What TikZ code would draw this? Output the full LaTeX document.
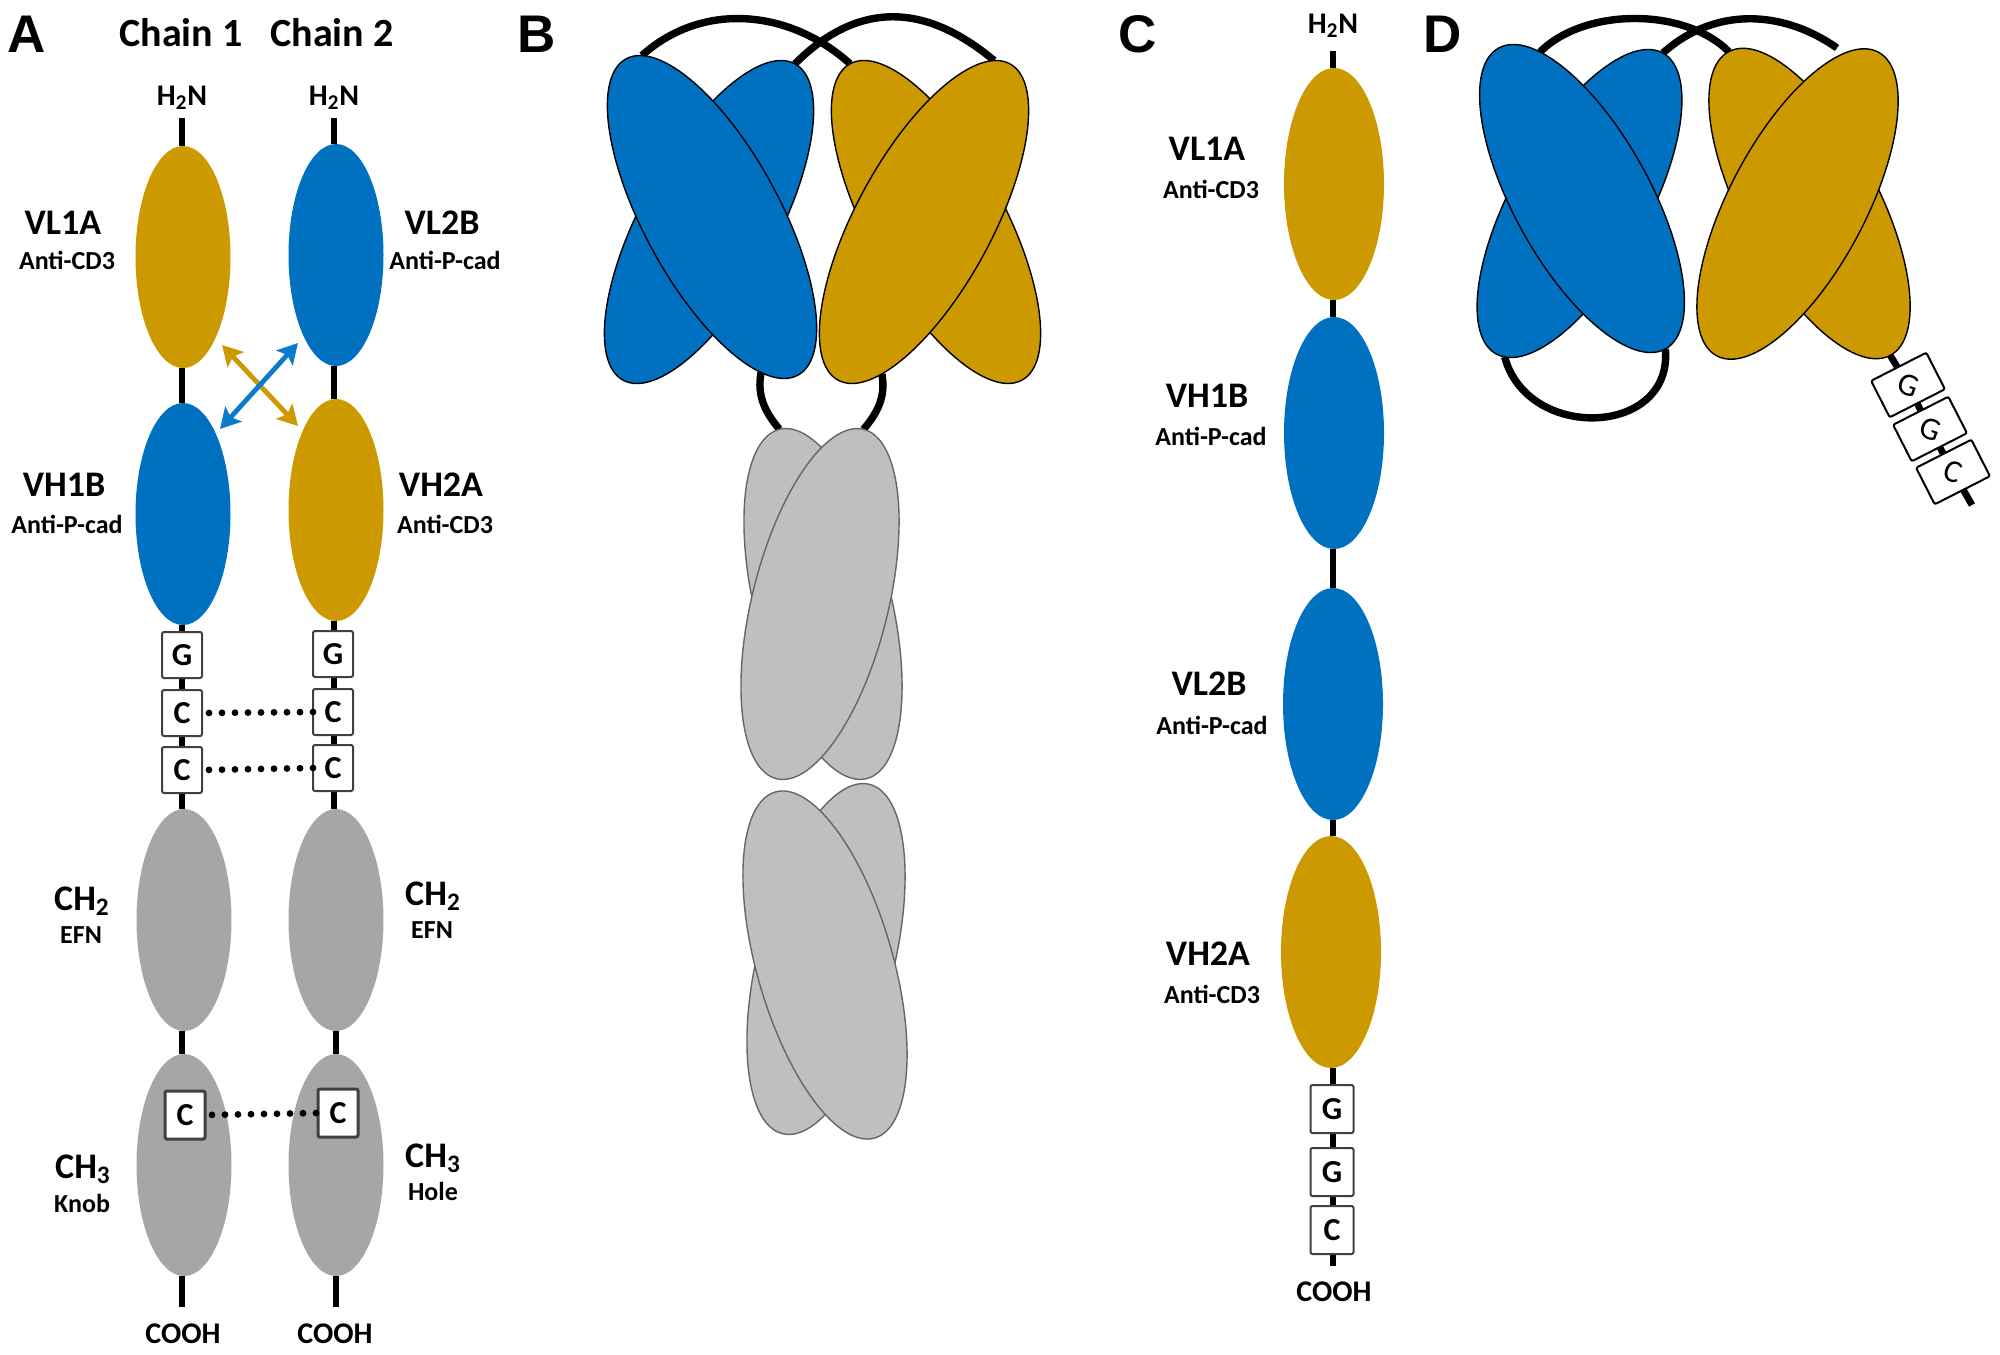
\documentclass[tikz,border=0pt]{standalone}
\usepackage{graphicx}
\usepackage{fontspec}
\setmainfont{Carlito}
\newfontfamily\panelfont{Liberation Sans}
\usetikzlibrary{arrows.meta,shapes.geometric,backgrounds}
\definecolor{goldish}{HTML}{CC9900}
\definecolor{blueish}{HTML}{0070C0}
\definecolor{arrowblue}{HTML}{0A7CCB}
\definecolor{greyA}{HTML}{A6A6A6}
\definecolor{greyB}{HTML}{BFBFBF}

\begin{document}
\begin{tikzpicture}[
        x=0.5pt, y=0.5pt,
        dom/.style      = {ellipse, inner sep=0pt, outer sep=0pt, minimum width=47.5pt, minimum height=111pt},
        domlong/.style  = {dom, minimum width=50pt, minimum height=116pt},
        fab/.style      = {ellipse, draw=black, line width=0.7pt, inner sep=0pt, outer sep=0pt, minimum width=68pt, minimum height=180pt},
        fabsmall/.style = {fab, minimum height=172pt},
        fc/.style       = {fab, draw=black!60, fill=greyB},
        hinge/.style    = {rectangle, draw=black!75, line width=1pt, rounded corners=1pt, fill=white, inner sep=0pt, outer sep=0pt,
                           minimum width=20pt, minimum height=23pt, font=\fontsize{16}{16}\selectfont\bfseries},
        hingelong/.style= {hinge, minimum width=21.5pt, minimum height=24pt},
        hingein/.style  = {hinge, line width=1.5pt, minimum width=20pt, minimum height=24pt},
        tilted/.style   = {hinge, draw=black, line width=1pt, rotate=27, minimum width=31pt, minimum height=20.5pt,
                           font=\fontsize{16}{16}\selectfont},
        tag/.style      = {inner sep=0pt, text height=10pt, text depth=3pt, font=\fontsize{15}{15}\selectfont\bfseries},
        domname/.style  = {inner sep=0pt, font=\fontsize{18}{18}\selectfont\bfseries},
        domspec/.style  = {inner sep=0pt, font=\fontsize{13}{13}\selectfont\bfseries},
        chaintitle/.style = {inner sep=0pt, font=\fontsize{20}{20}\selectfont\bfseries},
        panel/.style    = {inner sep=0pt, font=\panelfont\fontsize{26.5}{26.5}\selectfont\bfseries},
        linker/.style   = {line width=3.4pt, black},
        hoop/.style     = {line width=3.7pt, black},
        bond/.style     = {line width=3.4pt, line cap=round, dash pattern=on 0pt off 6.5pt},
        swaparrow/.style= {line width=2.4pt, {Stealth[length=10pt,width=11pt,inset=2pt]}-{Stealth[length=10pt,width=11pt,inset=2pt]}}]

        \useasboundingbox (0,0) rectangle (2000,-1354);

        % panel letters and chain titles
        \foreach \t/\x in {A/27,B/537,C/1138,D/1443}
        \node[panel] (panel\t) at (\x,-34) {\t};
        \node[chaintitle] (chain1) at (181,-33) {Chain 1};
        \node[chaintitle] (chain2) at (332,-33) {Chain 2};

        % panel A, chain 1
        \node[tag, outer sep=3.25pt] (ha1) at (182,-98.5) {H\textsubscript{2}N};
        \node[dom, fill=goldish] (vl1a) at (183,-257) {};
        \node[dom, fill=blueish] (vh1b) at (183,-514) {};
        \node[hinge] (ga1) at (182,-655) {G};
        \node[hinge] (ca1) at (182,-713) {C};
        \node[hinge] (ca2) at (182,-770) {C};
        \node[dom, fill=greyA] (ch2a) at (184,-920) {};
        \node[dom, fill=greyA] (ch3a) at (184,-1165) {};
        \node[hingein] (ca3) at (185,-1115) {C};
        \node[tag, outer sep=8pt] (oa1) at (183,-1336) {COOH};

        % panel A, chain 2
        \node[tag, outer sep=3.25pt] (ha2) at (334,-98.5) {H\textsubscript{2}N};
        \node[dom, fill=blueish] (vl2b) at (336,-255) {};
        \node[dom, fill=goldish] (vh2a) at (336,-510) {};
        \node[hinge] (gb1) at (333,-654) {G};
        \node[hinge] (cb1) at (333,-712) {C};
        \node[hinge] (cb2) at (333,-768) {C};
        \node[dom, fill=greyA] (ch2b) at (336,-920) {};
        \node[dom, fill=greyA] (ch3b) at (336,-1165) {};
        \node[hingein] (cb3) at (338,-1113) {C};
        \node[tag, outer sep=8pt] (ob1) at (335,-1336) {COOH};

        % panel A, labels
        \foreach \t/\x/\y [count=\i] in {VL1A/63/-223,VL2B/442/-223,VH1B/64/-485,VH2A/441/-485}
        \node[domname] (na\i) at (\x,\y) {\t};
        \foreach \t/\x/\y [count=\i] in {Anti-CD3/67/-260,Anti-P-cad/445/-260,Anti-P-cad/67/-524,Anti-CD3/445/-524,EFN/81/-935,EFN/432/-930,Knob/82/-1203,Hole/433/-1191}
        \node[domspec] (sa\i) at (\x,\y) {\t};
        \node[domname] (nc1) at (82,-901) {CH\textsubscript{2}};
        \node[domname] (nc2) at (433,-896) {CH\textsubscript{2}};
        \node[domname] (nc3) at (83,-1169) {CH\textsubscript{3}};
        \node[domname] (nc4) at (433,-1158) {CH\textsubscript{3}};

        % panel A, swapped pairs
        \coordinate (gs) at (222,-345);
        \coordinate (ge) at (298,-426);
        \coordinate (bs) at (298,-343);
        \coordinate (be) at (220,-429);
        \draw[swaparrow, goldish] (gs) -- (ge);
        \draw[swaparrow, arrowblue] (bs) -- (be);

        % panel A, disulfide bonds
        \draw[bond, shorten <=3.5pt] (ca1.east) -- (cb1.west);
        \draw[bond, shorten <=3.5pt] (ca2.east) -- (cb2.west);
        \draw[bond, shorten <=3.5pt] (ca3.east) -- (cb3.west);

        % panel B, Fv pairs
        \node[fab, fill=blueish, rotate=-28.5] (bbb) at (709,-222) {};
        \node[fab, fill=blueish, rotate=28.5] (bbf) at (712,-217) {};
        \node[fab, fill=goldish, rotate=28.5] (bgb) at (936,-222) {};
        \node[fab, fill=goldish, rotate=-28.5] (bgf) at (924,-222) {};

        % panel B, Fc
        \node[fc, rotate=14] (bcb) at (823,-604) {};
        \node[fc, rotate=-14] (bcf) at (820,-604) {};
        \node[fc, rotate=-14] (bdb) at (826,-959) {};
        \node[fc, rotate=16] (bdf) at (825,-965) {};

        % panel C
        \node[tag, outer sep=5.75pt] (hc) at (1333,-26.5) {H\textsubscript{2}N};
        \node[domlong, fill=goldish] (cvl1a) at (1334,-184) {};
        \node[domlong, fill=blueish] (cvh1b) at (1334,-433) {};
        \node[domlong, fill=blueish] (cvl2b) at (1333,-704) {};
        \node[domlong, fill=goldish] (cvh2a) at (1331,-952) {};
        \node[hingelong] (cg1) at (1332,-1109) {G};
        \node[hingelong] (cg2) at (1332,-1172) {G};
        \node[hingelong] (cc1) at (1332,-1230) {C};
        \node[tag, outer sep=7.5pt] (oc) at (1334,-1294) {COOH};
        \foreach \t/\x/\y [count=\i] in {VL1A/1207/-149,VH1B/1207/-396,VL2B/1209/-684,VH2A/1208/-954}
        \node[domname] (nd\i) at (\x,\y) {\t};
        \foreach \t/\x/\y [count=\i] in {Anti-CD3/1211/-189,Anti-P-cad/1211/-436,Anti-P-cad/1212/-725,Anti-CD3/1212/-994}
        \node[domspec] (sd\i) at (\x,\y) {\t};

        % panel D
        \node[fabsmall, fill=blueish, rotate=-29] (dbb) at (1579.5,-203.5) {};
        \node[fabsmall, fill=blueish, rotate=29] (dbf) at (1582,-198.5) {};
        \node[fabsmall, fill=goldish, rotate=28] (dgb) at (1809.5,-203.5) {};
        \node[fabsmall, fill=goldish, rotate=-28] (dgf) at (1797.5,-204) {};
        \node[tilted] (tg1) at (1908,-385) {\rotatebox{-47}{G}};
        \node[tilted] (tg2) at (1930,-429) {\rotatebox{-47}{G}};
        \node[tilted] (tc1) at (1953,-472) {\rotatebox{-47}{C}};
        \coordinate (tend) at (1972,-505);
        \coordinate (dend) at (1837,-48);

        % everything that runs behind the nodes
        \begin{pgfonlayer}{background}
            \foreach \xx/\a/\b in {182/ha1/vl1a,182/vl1a/vh1b,182/vh1b/ga1,182/ga1/ca1,182/ca1/ca2,182/ca2/ch2a,182/ch2a/ch3a,182/ch3a/oa1,
                334/ha2/vl2b,334/vl2b/vh2a,334/vh2a/gb1,334/gb1/cb1,334/cb1/cb2,334/cb2/ch2b,336/ch2b/ch3b,336/ch3b/ob1,
                1333/hc/cvl1a,1333/cvl1a/cvh1b,1333/cvh1b/cvl2b,1333/cvl2b/cvh2a,1333/cvh2a/cg1,1333/cg1/cg2,1333/cg2/cc1,1333/cc1/oc}
            \draw[linker] (\xx,0 |- \a.south) -- (\xx,0 |- \b.north);

            \draw[hoop] (bbf.85) to[out=42,in=138] (bgb.north);
            \draw[hoop] (bbb.north) to[out=45,in=140,looseness=1.15] (bgf.95);
            \draw[hoop] (bbf.-101) to[out=-100,in=130] (bcb.north);
            \draw[hoop] (bgf.-77) to[out=-80,in=50] (bcf.north);

            \draw[hoop] (dbf.77) to[out=45,in=135,looseness=0.85] (dgb.north);
            \draw[hoop] (dbb.north) to[out=42,in=145] (dend);
            \draw[hoop] (dbb.-87) to[out=-75,in=-85,looseness=1.4] (dbf.south);
            \draw[linker] (dgb.south) -- (tg1.center) -- (tg2.center) -- (tc1.center) -- (tend);
        \end{pgfonlayer}

    \end{tikzpicture}
\end{document}
